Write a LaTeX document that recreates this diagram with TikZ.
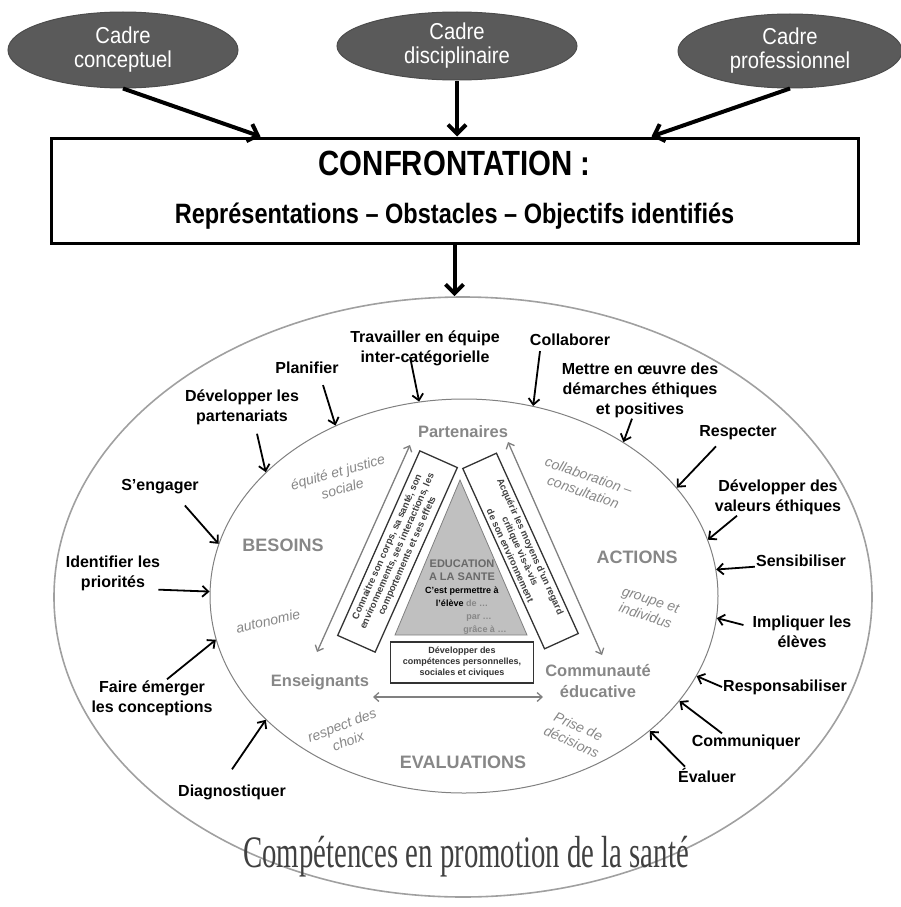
\documentclass[tikz,border=0pt]{standalone}
\usepackage{fontspec}
\setmainfont{Liberation Sans}
\newfontfamily\narrowsans{Liberation Sans}[FakeStretch=0.84]
\newfontfamily\cadrefont{Liberation Sans}[FakeStretch=0.88]
\newfontfamily\titleserif{Liberation Serif}[FakeStretch=0.64]
\usetikzlibrary{shapes.geometric,arrows.meta}
\definecolor{cadregray}{RGB}{90,90,90}
\definecolor{labelgray}{RGB}{135,135,135}
\definecolor{edugray}{RGB}{105,105,105}
\definecolor{ringgray}{RGB}{160,160,160}
\definecolor{trigray}{RGB}{192,192,192}

\tikzset{
  cadre/.style={ellipse, fill=cadregray, draw=black!70, line width=1pt, text=white,
    font=\cadrefont\fontsize{23}{24}\selectfont, align=center, inner sep=0pt},
  confbox/.style={draw, line width=3pt, minimum width=807, minimum height=105,
    align=center, font=\narrowsans\bfseries\fontsize{28}{48}\selectfont},
  bigarrow/.style={line width=4pt, -{Straight Barb[length=9pt,width=18pt]}},
  compt/.style={font=\bfseries\fontsize{16}{20}\selectfont, align=center, inner sep=1pt},
  comparrow/.style={line width=1.8pt, -{Straight Barb[length=6pt,width=11pt]}},
  pole/.style={text=labelgray, font=\bfseries\fontsize{16.5}{21}\selectfont, align=center},
  phasetext/.style={text=labelgray, font=\bfseries\fontsize{18}{22}\selectfont},
  valtext/.style={text=labelgray, font=\itshape\fontsize{14}{17}\selectfont, align=center},
  slantbox/.style={draw=black!80, line width=1.3pt, text=black!75, align=center,
    font=\bfseries\fontsize{9.5}{11}\selectfont, inner sep=1pt},
  garrow/.style={draw=gray, line width=1.3pt,
    {Straight Barb[length=5pt,width=9pt]}-{Straight Barb[length=5pt,width=9pt]}}
}

\begin{document}
\begin{tikzpicture}[x=1pt,y=-1pt]
\useasboundingbox (0,0) rectangle (901,907);

% les trois cadres
\node[cadre, minimum width=230, minimum height=76] (cconc) at (123,50) {Cadre\\conceptuel};
\node[cadre, minimum width=240, minimum height=68] (cdisc) at (457,46) {Cadre\\disciplinaire};
\node[cadre, minimum width=224, minimum height=74] (cprof) at (790,51) {Cadre\\professionnel};

\node[confbox] (conf) at (454.5,190.5) {{\fontsize{35}{48}\selectfont CONFRONTATION :}\\Représentations – Obstacles – Objectifs identifiés};

\draw[bigarrow] (cconc.south) -- ([xshift=-194pt]conf.north);
\draw[bigarrow] (cdisc.south) -- (cdisc.south |- conf.north);
\draw[bigarrow] (cprof.south) -- ([xshift=197pt]conf.north);

% ellipses
\node[ellipse, draw=ringgray, line width=1.6pt, minimum width=818, minimum height=600, inner sep=0pt] (outer) at (463,597) {};
\node[ellipse, draw=gray, line width=1pt, minimum width=508, minimum height=394, inner sep=0pt] (inner) at (464,596) {};

\draw[bigarrow] (conf.south) -- (conf.south |- outer.north);

% triangle central
\draw[draw=gray, fill=trigray, line width=0.8pt] (460,480) -- (527,635) -- (395,635) -- cycle;
\node[font=\bfseries\fontsize{9}{13}\selectfont, align=center, inner sep=0pt] (edu) at (462,597)
  {\textcolor{edugray}{\fontsize{11}{13}\selectfont EDUCATION}\\\textcolor{edugray}{\fontsize{11}{13}\selectfont A LA SANTE}\\C’est permettre à\\l’élève \textcolor{labelgray}{de …}\\\hspace*{34pt}\textcolor{labelgray}{par …}\\\hspace*{46pt}\textcolor{labelgray}{grâce à …}};

\node[slantbox, minimum width=202, minimum height=41, rotate=66] (lbox) at (397.5,551.5)
  {Connaitre son corps, sa santé, son\\environnements, ses interactions, les\\comportements et ses effets};
\node[slantbox, minimum width=198, minimum height=37, rotate=-65.6] (rbox) at (520.5,551)
  {Acquérir les moyens d’un regard\\critique vis-à-vis\\de son environnement};
\node[slantbox, text=black!80, font=\bfseries\fontsize{9}{11}\selectfont, minimum width=143, minimum height=41] (devc) at (462,662.5)
  {Développer des\\compétences personnelles,\\sociales et civiques};

% poles
\node[pole] (part) at (463,432) {Partenaires};
\node[pole] (ens) at (320,682) {Enseignants};
\node[pole] (commu) at (598,681) {Communauté\\éducative};
\draw[garrow] ([shift={(-3,-30)}]ens.center) -- ([shift={(-53,13)}]part.center);
\draw[garrow] ([shift={(45,10)}]part.center) -- ([shift={(4,-26)}]commu.center);
\draw[garrow] ([shift={(53,15)}]ens.center) -- ([shift={(-55,16)}]commu.center);

\node[phasetext] (bes) at (283,545) {BESOINS};
\node[phasetext] (act) at (637,557) {ACTIONS};
\node[phasetext] (evalu) at (463,762) {EVALUATIONS};

\node[valtext, rotate=16] (equi) at (340,480) {équité et justice\\sociale};
\node[valtext, rotate=13] (auto) at (268,621) {autonomie};
\node[valtext, rotate=-19] (collab) at (586,484) {collaboration –\\consultation};
\node[valtext, rotate=-18] (grp) at (648,608) {groupe et\\individus};
\node[valtext, rotate=21] (respch) at (345,733) {respect des\\choix};
\node[valtext, rotate=-24] (prise) at (575,734) {Prise de\\décisions};

% competences autour
\node[compt] (trav) at (425,348) {Travailler en équipe\\inter-catégorielle};
\node[compt] (coll) at (570,340) {Collaborer};
\node[compt] (plan) at (307,368) {Planifier};
\node[compt] (mettre) at (640,390) {Mettre en œuvre des\\démarches éthiques\\et positives};
\node[compt] (devp) at (242,407) {Développer les\\partenariats};
\node[compt] (enga) at (160,487) {S’engager};
\node[compt] (iden) at (113,573) {Identifier les\\priorités};
\node[compt] (faire) at (152,698) {Faire émerger\\les conceptions};
\node[compt] (diag) at (232,792) {Diagnostiquer};
\node[compt] (resp) at (738,433) {Respecter};
\node[compt] (devv) at (778,497) {Développer des\\valeurs éthiques};
\node[compt] (sens) at (801,561) {Sensibiliser};
\node[compt] (impl) at (802,632) {Impliquer les\\élèves};
\node[compt] (respo) at (785,687) {Responsabiliser};
\node[compt] (comm) at (746,742) {Communiquer};
\node[compt] (eval) at (707,775) {Évaluer};

\draw[comparrow] ([shift={(-15,-10)}]trav.south) -- (inner.103);
\draw[comparrow] ([shift={(-30,4)}]coll.south) -- (inner.70);
\draw[comparrow] ([shift={(16,10)}]plan.south) -- (inner.127);
\draw[comparrow] ([xshift=-8pt]mettre.south) -- (inner.44);
\draw[comparrow] ([shift={(15,8)}]devp.south) -- (inner.148);
\draw[comparrow] ([shift={(-15,10)}]enga.south east) -- (inner.168);
\draw[comparrow] ([shift={(-3,-2)}]iden.south east) -- (inner.179);
\draw[comparrow] ([xshift=15pt]faire.north) -- (inner.190);
\draw[comparrow] ([shift={(0,-14)}]diag.north) -- (inner.212);
\draw[comparrow] ([shift={(-22,5)}]resp.south) -- (inner.27);
\draw[comparrow] ([xshift=-41pt]devv.south) -- (inner.13);
\draw[comparrow] (sens.base west) -- (inner.6);
\draw[comparrow] ([shift={(-8,-7)}]impl.west) -- (inner.-5);
\draw[comparrow] (respo.west) -- (inner.-19);
\draw[comparrow] ([xshift=-24pt]comm.north) -- (inner.-26);
\draw[comparrow] ([xshift=8pt]eval.north west) -- (inner.-36);

\node[text=black!75, font=\titleserif\fontsize{45}{50}\selectfont] (compet) at (466,857) {Compétences en promotion de la santé};
\end{tikzpicture}
\end{document}
